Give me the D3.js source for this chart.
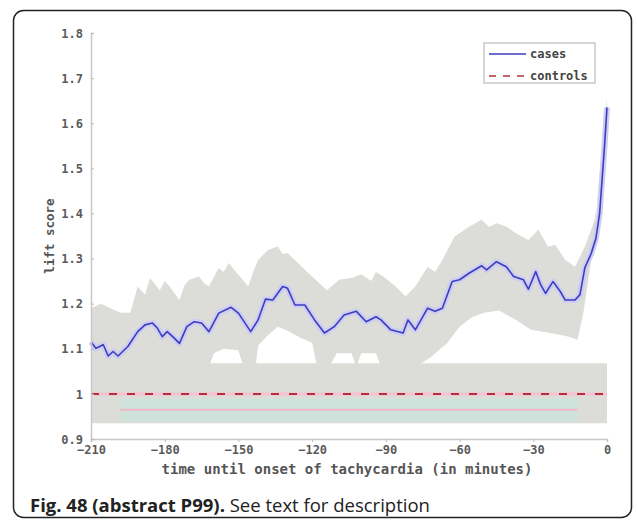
<!DOCTYPE html>
<html>
<head>
<meta charset="utf-8">
<script src="https://cdn.jsdelivr.net/npm/d3@7"></script>
<style>
  html, body { margin: 0; padding: 0; background: #fff; }
  svg { display: block; }
  .tick text { font-family: "DejaVu Sans Mono", monospace; font-weight: bold; fill: #5a5a5a; }
</style>
</head>
<body>
<div id="chart"></div>
<script>
// cases: mean lift score (minutes before onset)
const caseTime = [-210, -208, -205, -203, -201, -199, -195, -191, -188, -185, -183, -181, -179, -176, -174, -171,
  -168, -165, -162, -158, -153, -150, -145, -142, -139, -136, -132, -130, -127, -123, -119, -115, -111, -107,
  -102, -98, -94, -92, -88, -83, -81, -78, -73, -70, -67, -63, -60, -56, -51, -49, -45, -41, -38, -34, -32,
  -29, -27, -25, -22, -19, -17, -13, -11, -9, -6.5, -4.5, -3, -1, 0];
const caseMean = [1.115, 1.101, 1.109, 1.084, 1.094, 1.084, 1.105, 1.138, 1.153, 1.157, 1.146, 1.127, 1.138, 1.123,
  1.112, 1.149, 1.160, 1.157, 1.138, 1.179, 1.192, 1.179, 1.138, 1.164, 1.210, 1.208, 1.238, 1.234, 1.197, 1.197,
  1.164, 1.135, 1.149, 1.175, 1.183, 1.160, 1.171, 1.164, 1.142, 1.135, 1.164, 1.142, 1.190, 1.183, 1.190, 1.249,
  1.253, 1.268, 1.284, 1.275, 1.293, 1.282, 1.260, 1.253, 1.232, 1.271, 1.242, 1.223, 1.249, 1.227, 1.208, 1.208,
  1.220, 1.280, 1.310, 1.345, 1.400, 1.550, 1.635];

// cases: confidence band edges
const upperTime = [-210, -206, -202, -198, -194, -191, -188, -186, -182, -180, -178, -174, -172, -170, -166, -164,
  -162, -158, -156, -154, -150, -146, -144, -142, -138, -134, -132, -130, -125, -122, -120, -114, -109, -104,
  -100, -96, -94, -91, -86, -82, -78, -73, -70, -67, -62, -59, -56, -51, -48, -45, -41, -37, -32, -28, -24,
  -21, -17, -13, -9, -5, -2.5, 0];
const upperVals = [1.19, 1.2, 1.19, 1.18, 1.18, 1.238, 1.22, 1.257, 1.23, 1.25, 1.238, 1.208, 1.24, 1.253, 1.26,
  1.245, 1.238, 1.279, 1.27, 1.29, 1.264, 1.238, 1.27, 1.297, 1.319, 1.327, 1.31, 1.312, 1.286, 1.27, 1.26, 1.23,
  1.253, 1.257, 1.265, 1.25, 1.27, 1.26, 1.238, 1.216, 1.238, 1.282, 1.27, 1.297, 1.349, 1.36, 1.371, 1.386, 1.37,
  1.378, 1.371, 1.356, 1.341, 1.364, 1.327, 1.33, 1.297, 1.282, 1.327, 1.386, 1.475, 1.66];
const lowerTime = [-210, -190, -170, -162, -160, -156, -150, -148, -143, -142, -138, -134, -130, -125, -120, -118,
  -114, -110, -104, -102, -100, -94, -92, -85, -78, -72, -65, -60, -55, -50, -44, -37, -31, -23, -16, -12, -9.6,
  -5.6, -0.8, 0];
const lowerVals = [1.04, 1.05, 1.05, 1.06, 1.09, 1.1, 1.097, 1.06, 1.06, 1.107, 1.13, 1.149, 1.14, 1.125, 1.113,
  1.06, 1.05, 1.09, 1.09, 1.06, 1.09, 1.09, 1.06, 1.05, 1.06, 1.08, 1.113, 1.149, 1.17, 1.18, 1.185, 1.164, 1.142,
  1.135, 1.127, 1.12, 1.18, 1.327, 1.62, 1.63];

// controls
const controlTime = [-210, 0];
const controlMean = [1.0, 1.0];
const controlUpper = [1.068, 1.068];
const controlLower = [0.935, 0.935];
const controlInnerTime = [-198, -12];
const controlInnerUpper = [0.99, 0.99];
const controlInnerLower = [0.938, 0.938];
const controlInnerMid = [0.965, 0.965];

const xTicks = [-210, -180, -150, -120, -90, -60, -30, 0];
const yTicks = [0.9, 1, 1.1, 1.2, 1.3, 1.4, 1.5, 1.6, 1.7, 1.8];
const legendLabels = ["cases", "controls"];

const width = 637, height = 521;
const margin = { top: 33, right: 30, bottom: 82, left: 91 };

const svg = d3.select("#chart").append("svg")
  .attr("width", width)
  .attr("height", height);

// outer rounded frame
svg.append("rect")
  .attr("x", 13.5).attr("y", 10.5)
  .attr("width", 618).attr("height", 507)
  .attr("rx", 10)
  .attr("fill", "#fff")
  .attr("stroke", "#222")
  .attr("stroke-width", 1.5);

const x = d3.scaleLinear().domain([-210, 0]).range([margin.left, width - margin.right]);
const y = d3.scaleLinear().domain([0.9, 1.8]).range([height - margin.bottom, margin.top]);

const pts = (ts, vs) => ts.map((t, i) => [t, vs[i]]);
const line = d3.line().x((d) => x(d[0])).y((d) => y(d[1]));
const area = d3.area().x((d) => x(d.t)).y0((d) => y(d.lo)).y1((d) => y(d.hi));

// controls band
svg.append("path")
  .datum(controlTime.map((t, i) => ({ t, lo: controlLower[i], hi: controlUpper[i] })))
  .attr("fill", "#dcdcd8")
  .attr("d", area);

svg.append("path")
  .datum(controlInnerTime.map((t, i) => ({ t, lo: controlInnerLower[i], hi: controlInnerUpper[i] })))
  .attr("fill", "#cfe2db")
  .attr("d", area);

svg.append("path")
  .datum(pts(controlInnerTime, controlInnerMid))
  .attr("fill", "none")
  .attr("stroke", "#f2b5c6")
  .attr("stroke-width", 2)
  .attr("d", line);

// cases band: upper edge then lower edge back
const bandPts = pts(upperTime, upperVals).concat(pts(lowerTime, lowerVals).reverse());
svg.append("path")
  .datum(bandPts)
  .attr("fill", "#dcdcd8")
  .attr("d", line.curve(d3.curveLinearClosed));
line.curve(d3.curveLinear);

// controls mean
svg.append("path")
  .datum(pts(controlTime, controlMean))
  .attr("fill", "none")
  .attr("stroke", "#f4c6d0")
  .attr("stroke-width", 3.5)
  .attr("d", line);
svg.append("path")
  .datum(pts(controlTime, controlMean))
  .attr("fill", "none")
  .attr("stroke", "#b5303f")
  .attr("stroke-width", 2)
  .attr("stroke-dasharray", "8,10")
  .attr("d", line);

// cases mean with halo
const casePts = pts(caseTime, caseMean);
svg.append("path")
  .datum(casePts)
  .attr("fill", "none")
  .attr("stroke", "#cdcdf2")
  .attr("stroke-width", 6)
  .attr("stroke-linejoin", "round")
  .attr("d", line);
svg.append("path")
  .datum(casePts)
  .attr("fill", "none")
  .attr("stroke", "#3d3dc0")
  .attr("stroke-width", 1.6)
  .attr("stroke-linejoin", "round")
  .attr("d", line);

// axes
const xAxis = svg.append("g")
  .attr("transform", `translate(0,${y(0.9)})`)
  .call(d3.axisBottom(x).tickValues(xTicks).tickSize(3).tickPadding(3));
const yAxis = svg.append("g")
  .attr("transform", `translate(${x(-210)},0)`)
  .call(d3.axisLeft(y).tickValues(yTicks).tickSize(-3).tickPadding(8).tickFormat(d3.format("")));

[xAxis, yAxis].forEach((g) => {
  g.select(".domain").attr("stroke", "#c8c8c8").attr("stroke-width", 1.5);
  g.selectAll(".tick line").attr("stroke", "#bbb");
  g.selectAll(".tick text").attr("font-size", 12);
});
yAxis.selectAll(".tick text").attr("dy", "0.35em");

// axis titles
svg.append("text")
  .attr("x", 347).attr("y", 474)
  .attr("text-anchor", "middle")
  .attr("font-family", "DejaVu Sans Mono, monospace")
  .attr("font-weight", "bold")
  .attr("font-size", 14)
  .attr("fill", "#555")
  .text("time until onset of tachycardia (in minutes)");

svg.append("text")
  .attr("transform", "translate(54,236) rotate(-90)")
  .attr("text-anchor", "middle")
  .attr("font-family", "DejaVu Sans Mono, monospace")
  .attr("font-weight", "bold")
  .attr("font-size", 12.5)
  .attr("fill", "#555")
  .text("lift score");

// legend
const legend = svg.append("g").attr("transform", "translate(484,43)");
legend.append("rect")
  .attr("width", 111).attr("height", 40)
  .attr("fill", "#fff")
  .attr("stroke", "#c8c8c8")
  .attr("stroke-width", 1.5);
const legendColors = ["#3d3dc0", "#b5303f"];
const legendDash = [null, "7,7"];
legendLabels.forEach((label, i) => {
  legend.append("line")
    .attr("x1", 5).attr("x2", 42)
    .attr("y1", 11 + i * 22).attr("y2", 11 + i * 22)
    .attr("stroke", legendColors[i])
    .attr("stroke-width", 1.6)
    .attr("stroke-dasharray", legendDash[i]);
  legend.append("text")
    .attr("x", 46)
    .attr("y", 11 + i * 22)
    .attr("dy", "0.35em")
    .attr("font-family", "DejaVu Sans Mono, monospace")
    .attr("font-weight", "bold")
    .attr("font-size", 12)
    .attr("fill", "#444")
    .text(label);
});

// caption
const caption = svg.append("text")
  .attr("x", 30).attr("y", 512)
  .attr("font-family", "Open Sans, sans-serif")
  .attr("font-size", 18.5)
  .attr("fill", "#222");
caption.append("tspan").attr("font-weight", "bold").text("Fig. 48 (abstract P99).");
caption.append("tspan").text(" See text for description");
</script>
</body>
</html>
